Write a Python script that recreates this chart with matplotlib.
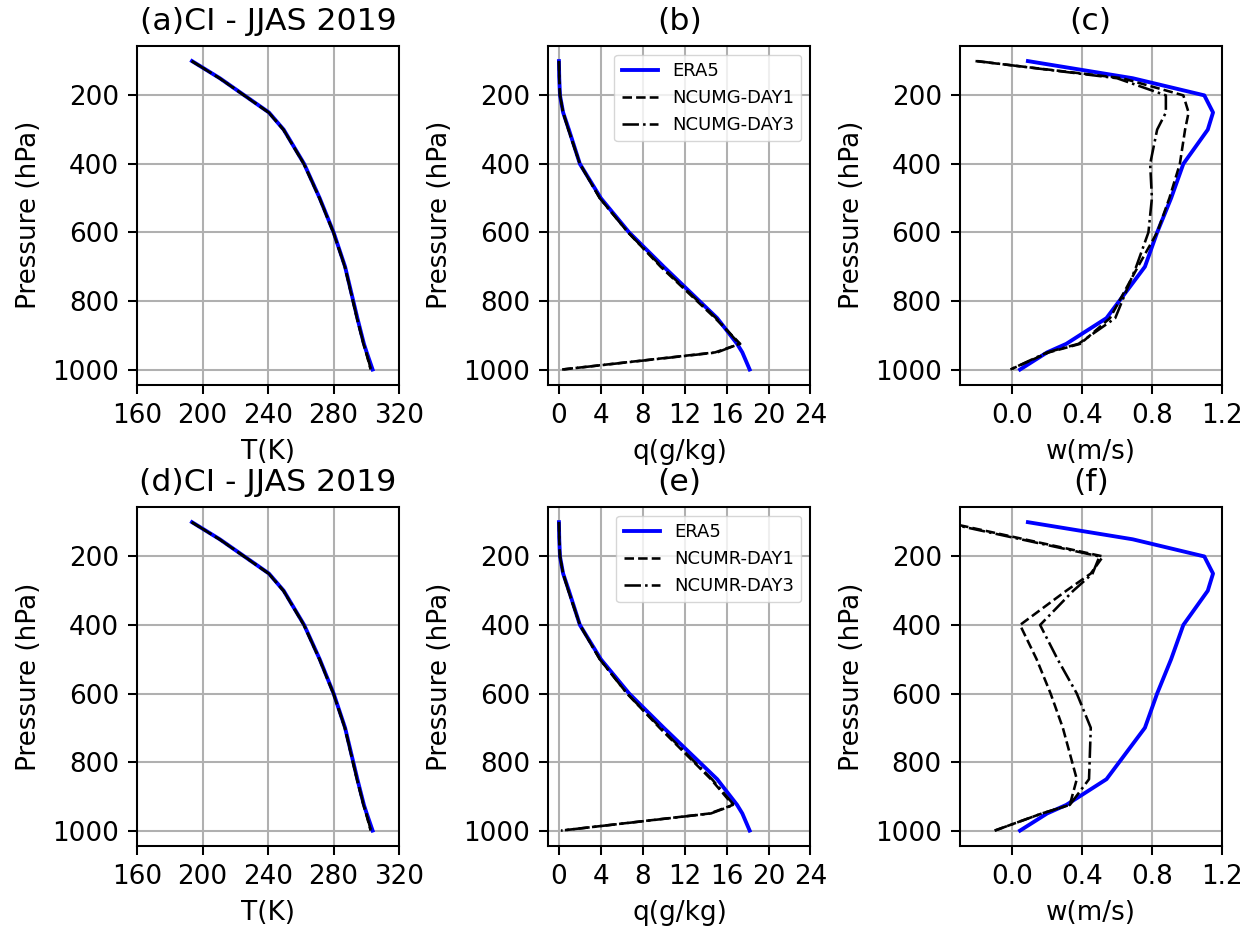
import matplotlib
matplotlib.use("Agg")
import matplotlib.pyplot as plt
import numpy as np

# niveaux de pression (hPa)
pres = [100, 150, 200, 250, 300, 400, 500, 600, 700, 850, 925, 950, 1000]

# temperature (K)
t_era5 = [193.5, 210.5, 225.5, 240.5, 249.5, 262.0, 271.5, 280.0, 287.0, 294.5, 298.5, 300.2, 303.8]
t_ncumg_d1 = [193.3, 210.3, 225.3, 240.3, 249.3, 261.8, 271.3, 279.8, 286.8, 294.2, 298.2, 299.8, 302.6]
t_ncumg_d3 = [193.4, 210.4, 225.4, 240.4, 249.4, 261.9, 271.4, 279.9, 286.9, 294.3, 298.3, 299.9, 302.8]
t_ncumr_d1 = [193.3, 210.3, 225.3, 240.3, 249.3, 261.8, 271.3, 279.8, 286.8, 294.2, 298.2, 299.8, 302.6]
t_ncumr_d3 = [193.4, 210.4, 225.4, 240.4, 249.4, 261.9, 271.4, 279.9, 286.9, 294.3, 298.3, 299.9, 302.8]

# humidite specifique (g/kg)
q_era5 = [0.0, 0.03, 0.1, 0.4, 0.95, 2.0, 4.0, 6.7, 10.0, 15.1, 17.0, 17.5, 18.2]
q_ncumg_d1 = [0.0, 0.03, 0.1, 0.4, 0.9, 2.0, 3.9, 6.6, 9.7, 14.9, 17.3, 14.9, 0.3]
q_ncumg_d3 = [0.0, 0.03, 0.1, 0.4, 0.9, 2.0, 3.9, 6.6, 9.8, 15.0, 17.2, 15.1, 0.3]
q_ncumr_d1 = [0.0, 0.03, 0.1, 0.4, 0.9, 2.0, 3.9, 6.5, 9.6, 14.5, 16.6, 14.4, 0.2]
q_ncumr_d3 = [0.0, 0.03, 0.1, 0.4, 0.9, 2.0, 3.9, 6.5, 9.7, 14.6, 16.7, 14.5, 0.2]

# vitesse verticale (m/s)
w_era5 = [0.09, 0.69, 1.10, 1.15, 1.12, 0.98, 0.91, 0.83, 0.76, 0.54, 0.31, 0.20, 0.045]
w_ncumg_d1 = [-0.21, 0.63, 0.98, 1.01, 0.99, 0.96, 0.90, 0.83, 0.72, 0.56, 0.39, 0.21, -0.01]
w_ncumg_d3 = [-0.20, 0.60, 0.88, 0.88, 0.83, 0.79, 0.80, 0.78, 0.71, 0.59, 0.38, 0.20, -0.01]
w_ncumr_d1 = [-0.38, 0.07, 0.52, 0.45, 0.31, 0.045, 0.14, 0.22, 0.29, 0.37, 0.33, 0.17, -0.10]
w_ncumr_d3 = [-0.40, 0.05, 0.50, 0.46, 0.35, 0.16, 0.26, 0.37, 0.45, 0.44, 0.33, 0.17, -0.10]

s = 1.85  # facteur d'echelle (figure d'origine a ~185 dpi)
plt.rcParams.update({
    'font.size': 18.9,
    'axes.linewidth': 0.8 * s,
    'xtick.major.size': 3.5 * s, 'ytick.major.size': 3.5 * s,
    'xtick.major.width': 0.8 * s, 'ytick.major.width': 0.8 * s,
    'xtick.major.pad': 3.5 * s, 'ytick.major.pad': 3.5 * s,
    'grid.linewidth': 0.8 * s,
    'axes.labelpad': 4 * s,
    'axes.titlepad': 6 * s,
})

fig, axes = plt.subplots(2, 3, figsize=(12.41, 9.30), dpi=100)
plt.subplots_adjust(left=0.1105, right=0.9845, bottom=0.0903, top=0.9509,
                    wspace=0.57, hspace=0.359)

rows = [
    ('(a)CI - JJAS 2019', '(b)', '(c)', 'NCUMG',
     t_ncumg_d1, t_ncumg_d3, q_ncumg_d1, q_ncumg_d3, w_ncumg_d1, w_ncumg_d3),
    ('(d)CI - JJAS 2019', '(e)', '(f)', 'NCUMR',
     t_ncumr_d1, t_ncumr_d3, q_ncumr_d1, q_ncumr_d3, w_ncumr_d1, w_ncumr_d3),
]

for i, (ta, tb, tc, model, t1, t3, q1, q3, w1, w3) in enumerate(rows):
    panels = [(t_era5, t1, t3, 'T(K)', ta, (160, 320), np.arange(160, 321, 40)),
              (q_era5, q1, q3, 'q(g/kg)', tb, (-1, 24), np.arange(0, 25, 4)),
              (w_era5, w1, w3, 'w(m/s)', tc, (-0.3, 1.2), [0.0, 0.4, 0.8, 1.2])]
    for j, (era, d1, d3, xlab, title, xlim, xt) in enumerate(panels):
        ax = axes[i, j]
        ax.plot(era, pres, color='blue', lw=1.5 * s, label='ERA5')
        ax.plot(d1, pres, 'k--', lw=1.0 * s, label=model + '-DAY1')
        ax.plot(d3, pres, 'k-.', lw=1.0 * s, label=model + '-DAY3')
        ax.invert_yaxis()
        ax.set_xlim(xlim)
        ax.set_xticks(xt)
        if j == 2:
            ax.set_xticklabels(['0.0', '0.4', '0.8', '1.2'])
        ax.set_yticks([200, 400, 600, 800, 1000])
        ax.set_xlabel(xlab)
        ax.set_ylabel('Pressure (hPa)')
        ax.set_title(title)
        ax.grid(True)
        if j == 1:
            ax.legend(loc='upper right', fontsize=13)

plt.savefig('out.png', dpi=100)
